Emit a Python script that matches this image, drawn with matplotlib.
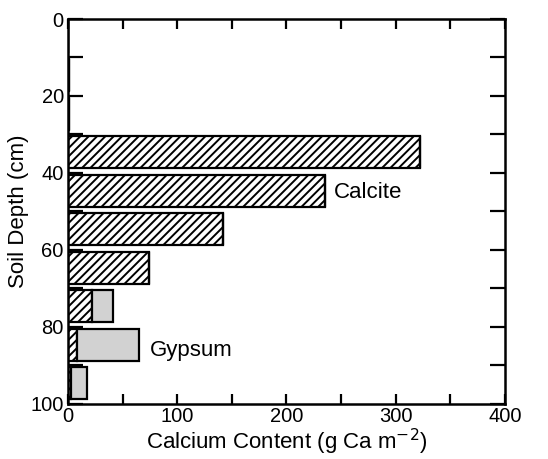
import matplotlib
matplotlib.use("Agg")
import matplotlib.pyplot as plt
import numpy as np

plt.rcParams['font.family'] = ['Liberation Sans', 'DejaVu Sans']
plt.rcParams['hatch.linewidth'] = 1.4

depth_top = [0, 10, 20, 30, 40, 50, 60, 70, 80, 90]
calcite = [0, 1, 1, 322, 235, 142, 74, 22, 8, 3]
gypsum = [0, 0, 0, 0, 0, 0, 0, 19, 57, 14]
x_ticks = [0, 100, 200, 300, 400]
y_ticks = [0, 20, 40, 60, 80, 100]

fig = plt.figure(figsize=(5.48, 4.59), dpi=100)
ax = fig.add_axes([0.124, 0.12, 0.7975, 0.8386])

ys = np.array(depth_top) + 0.5
ax.barh(ys, calcite, height=8.3, align='edge', color='white', edgecolor='black',
        hatch='////', linewidth=1.6)
ax.barh(ys, gypsum, left=calcite, height=8.3, align='edge', color='#d2d2d2',
        edgecolor='black', linewidth=1.6)

ax.set_xlim(0, 400)
ax.set_ylim(100, 0)
ax.set_xticks(x_ticks)
ax.set_xticks(np.arange(0, 401, 50), minor=True)
ax.set_yticks(y_ticks)
ax.set_yticks(np.arange(0, 101, 10), minor=True)
ax.tick_params(axis='x', which='both', direction='in', top=True, bottom=True,
               length=7.5, width=1.6, labelsize=14.5, pad=2)
ax.tick_params(axis='y', which='both', direction='in', left=True, right=True,
               length=11, width=1.6, labelsize=14.5, pad=3)
for s in ax.spines.values():
    s.set_linewidth(1.8)

ax.set_xlabel('Calcium Content (g Ca m$^{-2}$)', fontsize=16, labelpad=1)
ax.set_ylabel('Soil Depth (cm)', fontsize=16, labelpad=1)

ax.text(243, 45, 'Calcite', fontsize=16, va='center', ha='left')
ax.text(75, 86, 'Gypsum', fontsize=16, va='center', ha='left')

fig.savefig('out.png', dpi=100)
